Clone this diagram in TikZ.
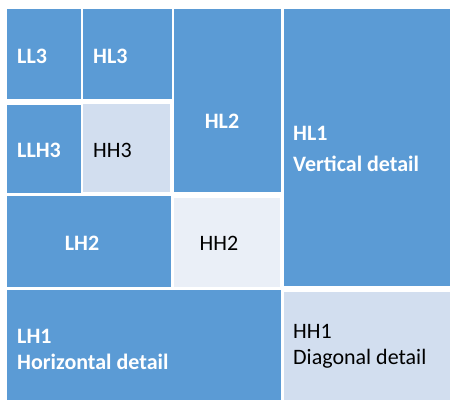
\documentclass[tikz,border=0pt]{standalone}
\usepackage{fontspec}
\setmainfont{Carlito}

\definecolor{wblue}{HTML}{5B9BD5}
\definecolor{wpale}{HTML}{D2DEEF}
\definecolor{wpaler}{HTML}{EAEFF7}

\tikzset{
  band/.style={fill=wblue},
  detail/.style={fill=wpale},
  bandlabel/.style={text=white, inner sep=0pt, align=left,
    font=\fontsize{22}{26}\selectfont\bfseries},
  detaillabel/.style={text=black, inner sep=0pt, align=left,
    font=\fontsize{22}{26}\selectfont}
}

\begin{document}
\begin{tikzpicture}[x=1pt,y=-1pt]

  \clip (0,0) rectangle (450,400);
  \fill[white] (0,0) rectangle (450,400);

  % level 3
  \fill[band] (7,9) rectangle (81,99);
  \fill[band] (83,9) rectangle (171.5,99);
  \fill[band] (7,105) rectangle (81,193);
  \fill[detail] (83,104) rectangle (170,192);

  \node[bandlabel, anchor=base west] (ll3) at (17,63) {LL3};
  \node[bandlabel, anchor=base west] (hl3) at (93,63) {HL3};
  \node[bandlabel, anchor=base west] (llh3) at (17,157) {LLH3};
  \node[detaillabel, anchor=base west] (hh3) at (93,157) {HH3};

  % level 2
  \fill[band] (174,9) rectangle (280.5,192);
  \fill[band] (7,196) rectangle (170.5,287);
  \fill[fill=wpaler] (173.5,197.5) rectangle (279.5,287);

  \node[bandlabel, anchor=base] (hl2) at (222,128) {HL2};
  \node[bandlabel, anchor=base] (lh2) at (82,250) {LH2};
  \node[detaillabel, anchor=base] (hh2) at (219,250) {HH2};

  % level 1 (base = last line)
  \fill[band] (283.5,9) rectangle (450,286);
  \fill[band] (7,289.5) rectangle (280.5,400);
  \fill[detail] (283.5,292) rectangle (450,400);

  \node[bandlabel, anchor=base west] (hl1) at (293,171) {HL1\\[5pt]Vertical detail};
  \node[bandlabel, anchor=base west] (lh1) at (17,369) {LH1\\Horizontal detail};
  \node[detaillabel, anchor=base west] (hh1) at (293,364) {HH1\\Diagonal detail};

\end{tikzpicture}
\end{document}
